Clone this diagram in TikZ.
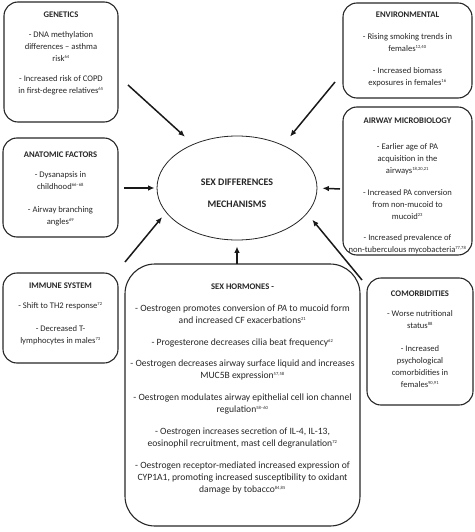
\documentclass[tikz,border=0pt]{standalone}
\usepackage{fontspec}
\setmainfont{Carlito}
\usetikzlibrary{arrows.meta,shapes.geometric,calc}
\newcommand{\rf}[1]{\textsuperscript{\fontsize{4.6}{5}\selectfont #1}}
\tikzset{
  box/.style={draw=black!85, line width=1.1pt, rounded corners=14pt, inner sep=0pt},
  bigbox/.style={box, rounded corners=30pt},
  txt/.style={align=center, inner sep=0pt, anchor=north, text=black!85,
              font=\fontsize{8.6}{12}\selectfont},
  arr/.style={-{Latex[length=6.5pt,width=5.5pt]}, line width=1.5pt, black!90},
}
\begin{document}
\begin{tikzpicture}[x=1pt,y=-1pt]
\useasboundingbox (0,0) rectangle (474,532);
% boxes
\node[box, minimum width=114pt, minimum height=120pt] (gen) at (61,62) {};
\node[box, minimum width=129pt, minimum height=95pt] (env) at (407.5,50.5) {};
\node[box, minimum width=129pt, minimum height=148pt] (air) at (407.5,181) {};
\node[box, minimum width=115pt, minimum height=99pt] (ana) at (60.5,187.5) {};
\node[box, minimum width=115pt, minimum height=90pt] (imm) at (60.5,318) {};
\node[box, minimum width=106pt, minimum height=127pt] (com) at (420,341.5) {};
\node[bigbox, minimum width=235pt, minimum height=262pt] (sex) at (242.5,395) {};
\node[draw=black!85, line width=0.8pt, ellipse, minimum width=160pt, minimum height=104pt] (sd) at (237,188) {};
% texts
\node[txt] (gent) at (61,12) {\textbf{GENETICS}\\[8pt]
 - DNA methylation\\ differences -- asthma\\ risk\rf{64}\\[8pt]
 - Increased risk of COPD\\ in first-degree relatives\rf{65}};
\node[txt] (envt) at (407.5,12) {\textbf{ENVIRONMENTAL}\\[10pt]
 - Rising smoking trends in\\ females\rf{12,40}\\[10pt]
 - Increased biomass\\ exposures in females\rf{16}};
\node[txt] (airt) at (407.5,118) {\textbf{AIRWAY MICROBIOLOGY}\\[14pt]
 - Earlier age of PA\\ acquisition in the\\ airways\rf{18,20,21}\\[10pt]
 - Increased PA conversion\\ from non-mucoid to\\ mucoid\rf{23}\\[9pt]
 - Increased prevalence of\\ non-tuberculous mycobacteria\rf{77,78}};
\node[txt] (anat) at (60.5,152) {\textbf{ANATOMIC FACTORS}\\[8pt]
 - Dysanapsis in\\ childhood\rf{66--68}\\[11pt]
 - Airway branching\\ angles\rf{69}};
\node[txt] (immt) at (60.5,283) {\textbf{IMMUNE SYSTEM}\\[8pt]
 - Shift to TH2 response\rf{72}\\[11pt]
 - Decreased T-\\ lymphocytes in males\rf{73}};
\node[txt] (comt) at (420,291) {\textbf{COMORBIDITIES}\\[8pt]
 - Worse nutritional\\ status\rf{88}\\[11pt]
 - Increased\\ psychological\\ comorbidities in\\ females\rf{90,91}};
\node[txt, font=\fontsize{9.6}{12}\selectfont] (sext) at (242.5,284) {{\fontsize{8.6}{12}\selectfont\textbf{SEX HORMONES -}}\\[10pt]
 - Oestrogen promotes conversion of \textit{PA} to mucoid form\\ and increased CF exacerbations\rf{21}\\[10pt]
 - Progesterone decreases cilia beat frequency\rf{62}\\[9pt]
 - Oestrogen decreases airway surface liquid and increases\\ MUC5B expression\rf{57,58}\\[10pt]
 - Oestrogen modulates airway epithelial cell ion channel\\ regulation\rf{58--60}\\[10pt]
 - Oestrogen increases secretion of IL-4, IL-13,\\ eosinophil recruitment, mast cell degranulation\rf{72}\\[10pt]
 - Oestrogen receptor-mediated increased expression of\\ CYP1A1, promoting increased susceptibility to oxidant\\ damage by tobacco\rf{84,85}};
\node[txt, font=\fontsize{10}{12}\selectfont] (sdt) at (237,179) {\textbf{SEX DIFFERENCES}\\[10pt]\textbf{MECHANISMS}};
% arrow start points
\coordinate (gS) at (128,85);
\coordinate (eS) at (335,82);
\coordinate (aS) at (124,188);
\coordinate (mS) at (340,189);
\coordinate (iS) at (125,262);
\coordinate (cS) at (362,280);
\coordinate (sS) at (237,264);
% arrows
\draw[arr, shorten >=11pt] (gS) -- (sd.135);
\draw[arr, shorten >=11pt] (eS) -- (sd.43);
\draw[arr, shorten >=2pt] (aS) -- (sd.west);
\draw[arr, shorten >=5pt] (mS) -- (sd.east);
\draw[arr, shorten >=6pt] (iS) -- (sd.199);
\draw[arr, shorten >=8pt] (cS) -- (sd.340);
\draw[arr, shorten >=6pt] (sS) -- (sd.south);
\end{tikzpicture}
\end{document}
